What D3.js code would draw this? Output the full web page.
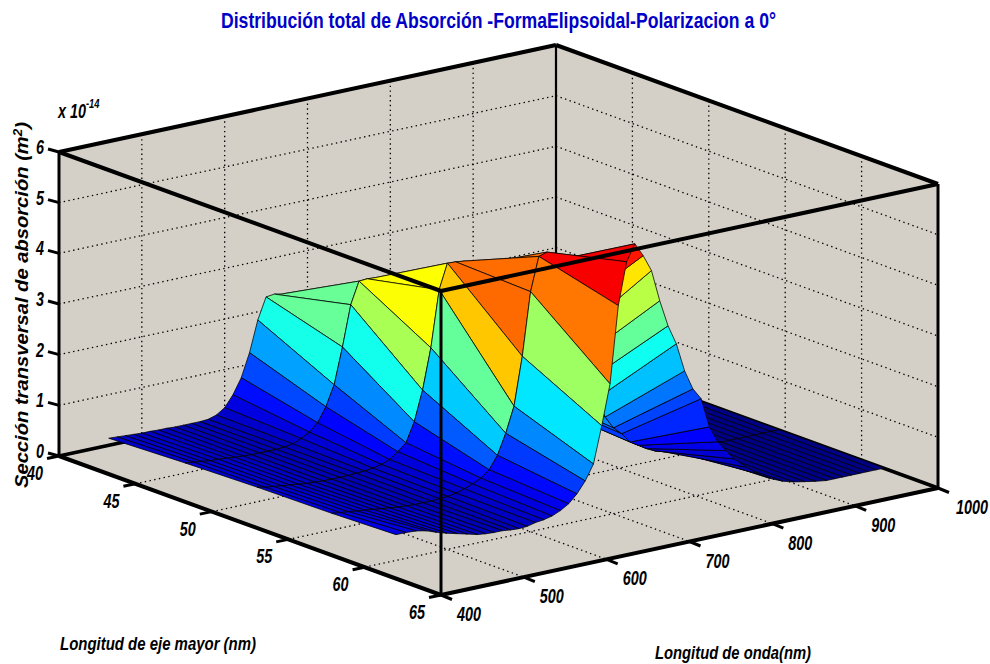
<!DOCTYPE html>
<html><head><meta charset="utf-8">
<style>html,body{margin:0;padding:0;background:#fff}svg{display:block}
text{font-family:"Liberation Sans",Arial,sans-serif;font-weight:bold;font-style:italic;fill:#000}</style>
<script src="https://cdn.jsdelivr.net/npm/d3@7"></script></head><body>
<script>
const titleText="Distribución total de Absorción -FormaElipsoidal-Polarizacion a 0°";
const eTicks=[40,45,50,55,60,65];
const lTicks=[400,500,600,700,800,900,1000];
const zTicks=[0,1,2,3,4,5,6];
const wavelengths=[460,470,480,490,500,510,520,530,540,550,560,570,580,590,600,610,620,630,640,650,660,670,680,690,700,710,720,730,740,750,760,770,780,790,800,810,820,830,840,850,860,870,880,890,900,910,920,930,940,950,960,970,980,990,1000];
const rowE=[40,45,49.7,54.6];
const z40=[.14,.13,.12,.11,.1,.1,.09,.09,.08,.08,
 .08,.08,.09,.14,.25,.47,.77,1.23,1.84,2.26,
 2.28,2.25,2.0,1.75,1.5,1.25,1.0,.8,.6,.45,
 .35,.27,.2,.15,.12,.09,.07,.05,.04,.03,
 .02,.02,.02,.01,.01,.01,.01,.01,.01,.01,
 .01,.01,.01,.01,.01];
const z45=[.2,.18,.16,.14,.13,.12,.1,.09,.08,.08,
 .08,.08,.09,.12,.19,.28,.43,.71,1.11,1.82,
 2.62,3.05,3.06,3.05,2.75,2.4,2.1,1.8,1.5,1.25,
 1.0,.8,.65,.5,.4,.3,.25,.2,.15,.12,
 .09,.07,.05,.04,.03,.02,.02,.01,.01,.01,
 .01,.01,.01,.01,.01];
const z50=[.24,.2,.18,.16,.14,.12,.1,.09,.08,.08,
 .08,.08,.09,.1,.12,.16,.22,.34,.48,.86,
 1.45,2.25,3.36,3.85,3.84,3.82,3.7,3.3,2.9,2.5,
 2.1,1.7,1.4,1.1,.9,.7,.5,.4,.3,.2,
 .14,.1,.07,.05,.04,.03,.02,.02,.01,.01,
 .01,.01,.01,.01,.01];
const z55=[.26,.24,.22,.2,.18,.16,.14,.12,.1,.09,
 .08,.08,.08,.09,.1,.13,.18,.24,.32,.45,
 .7,1.1,1.6,2.55,3.79,4.45,4.5,4.3,3.2,2.7,
 2.25,1.8,1.4,1.0,.75,.6,.4,.3,.2,.12,
 .07,.05,.04,.03,.02,.02,.01,.01,.01,.01,
 .01,.01,.01,.01,.01];
const z60=[.3,.32,.33,.31,.26,.22,.19,.16,.13,.11,
 .1,.1,.08,.07,.08,.12,.14,.18,.25,.35,
 .51,.73,1.03,1.75,2.54,4.05,4.88,5.2,4.93,4.6,
 3.97,3.44,3.05,2.48,2.09,1.86,1.27,.94,.73,.53,
 .36,.22,.12,.06,.03,.02,.01,.01,.01,.01,
 .01,.01,.01,.01,.01];
const zRows=[z40,z45,z50,z55,z60];
const rowLastE=d3.scaleLinear().domain([460,540,850,890,930,1000]).range([58.8,59.8,59.8,60.8,61.5,61.5]);

const W=990,H=664,ox=59,oy=456;
const xE=d3.scaleLinear().domain([40,65]).range([0,382]);
const yE=d3.scaleLinear().domain([40,65]).range([0,139]);
const xL=d3.scaleLinear().domain([400,1000]).range([0,497]);
const yL=d3.scaleLinear().domain([400,1000]).range([0,-107]);
const yZ=d3.scaleLinear().domain([0,6]).range([0,-304]);
const P=(e,l,z)=>[ox+xE(e)+xL(l),oy+yE(e)+yL(l)+yZ(z)];
const tScale=d3.scaleLinear().domain([0,.1,1,3.9,4.5]).range([0,.065,.24,.78,.89]).clamp(true);
const c1=v=>Math.max(0,Math.min(1,v));
function jet(z){const t=tScale(z);return d3.rgb(255*c1(1.5-Math.abs(4*t-3)),255*c1(1.5-Math.abs(4*t-2)),255*c1(1.5-Math.abs(4*t-1))).formatHex();}

const svg=d3.select("body").append("svg").attr("width",W).attr("height",H);
const line=d3.line();
const seg=(a,b,w,dash)=>svg.append("path").attr("d",line([a,b])).attr("stroke","#000").attr("stroke-width",w).attr("fill","none").attr("stroke-dasharray",dash||null);

// box walls and floor
svg.append("path").attr("d",line([P(40,400,0),P(40,400,6),P(40,1000,6),P(65,1000,6),P(65,1000,0),P(65,400,0)])+"Z").attr("fill","#d4d0c8");

// dotted grid
const dots="1.4 3.4";
zTicks.slice(1,6).forEach(z=>{seg(P(40,400,z),P(40,1000,z),1.3,dots);seg(P(40,1000,z),P(65,1000,z),1.3,dots);});
lTicks.slice(1,6).forEach(l=>{seg(P(40,l,0),P(40,l,6),1.3,dots);seg(P(40,l,0),P(65,l,0),1.3,dots);});
eTicks.slice(1,5).forEach(e=>{seg(P(e,1000,0),P(e,1000,6),1.3,dots);seg(P(e,400,0),P(e,1000,0),1.3,dots);});

// back edges
seg(P(40,400,0),P(40,1000,0),3.5);
seg(P(40,1000,0),P(65,1000,0),3.5);
seg(P(40,1000,0),P(40,1000,6),2.2);
seg(P(40,400,6),P(40,1000,6),4);
seg(P(40,1000,6),P(65,1000,6),4);
seg(P(40,400,0),P(40,400,6),3);
seg(P(65,1000,0),P(65,1000,6),3);
seg(P(40,400,0),P(65,400,0),4);
seg(P(65,400,0),P(65,1000,0),4);

// surface, painted far to near
const eOf=(j,l)=>j<rowE.length?rowE[j]:rowLastE(l);
const faces=[];
for(let j=0;j<zRows.length-1;j++){
  for(let i=wavelengths.length-2;i>=0;i--){
    const l0=wavelengths[i],l1=wavelengths[i+1];
    faces.push({pts:[P(eOf(j,l0),l0,zRows[j][i]),P(eOf(j,l1),l1,zRows[j][i+1]),P(eOf(j+1,l1),l1,zRows[j+1][i+1]),P(eOf(j+1,l0),l0,zRows[j+1][i])],c:jet(zRows[j][i])});
  }
}
svg.append("g").selectAll("path").data(faces).join("path")
  .attr("d",d=>line(d.pts)+"Z").attr("fill",d=>d.c)
  .attr("stroke","#000").attr("stroke-width",0.85).attr("stroke-opacity",0.9).attr("stroke-linejoin","round");

// front edges on top
seg(P(65,400,0),P(65,400,6),3);
seg(P(40,400,6),P(65,400,6),4);
seg(P(65,400,6),P(65,1000,6),4);

// ticks
zTicks.forEach(z=>{const p=P(40,400,z);seg(p,[p[0]-11,p[1]-3],3);});
eTicks.forEach(e=>{const p=P(e,400,0);seg(p,[p[0]-12,p[1]+2.5],3);});
lTicks.forEach(l=>{const p=P(65,l,0);seg(p,[p[0]+11,p[1]+4.5],3);});

const label=(x,y,s,size,sx)=>svg.append("text").attr("transform",`translate(${x},${y}) scale(${sx},1)`).attr("text-anchor","middle").attr("font-size",size).text(s);
zTicks.forEach(z=>{const p=P(40,400,z);label(p[0]-19,p[1]+2,z,20,.72);});
eTicks.forEach(e=>{const p=P(e,400,0);label(p[0]-24,p[1]+24,e,20,.72);});
lTicks.forEach(l=>{const p=P(65,l,0);label(p[0]+(l===1000?34:28),p[1]+26,l,20,.72);});

// multiplier
const mult=svg.append("text").attr("transform","translate(58,118) scale(.72,1)").attr("font-size",20);
mult.append("tspan").text("x 10");
mult.append("tspan").attr("dy",-10).attr("font-size",13).text("-14");

// titles
svg.append("text").attr("x",221).attr("y",28).attr("font-size",22).attr("textLength",555).attr("lengthAdjust","spacingAndGlyphs").style("font-style","normal").style("fill","#0000c8").text(titleText);
svg.append("text").attr("x",60).attr("y",650).attr("font-size",19).attr("textLength",196).attr("lengthAdjust","spacingAndGlyphs").text("Longitud de eje mayor (nm)");
svg.append("text").attr("x",655).attr("y",659).attr("font-size",19).attr("textLength",156).attr("lengthAdjust","spacingAndGlyphs").text("Longitud de onda(nm)");
const yl=svg.append("text").attr("transform","translate(28,488) rotate(-90) scale(1.12,1)").attr("font-size",18);
yl.append("tspan").text("Sección transversal de absorción (m");
yl.append("tspan").attr("dy",-6).attr("font-size",12).text("2");
yl.append("tspan").attr("dy",6).text(")");
</script></body></html>
